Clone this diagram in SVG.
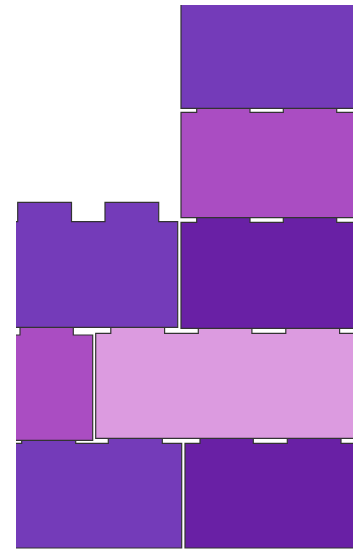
<svg xmlns="http://www.w3.org/2000/svg" width="360" height="549" viewBox="0 0 360 549">
<defs>
<clipPath id="view"><rect x="16" y="5" width="337" height="544"/></clipPath>
</defs>
<style>
.b{stroke:#333;stroke-width:1.2;stroke-linejoin:miter}
.p{fill:#743bb9}
.m{fill:#aa4dc2}
.d{fill:#6920a5}
.l{fill:#dc9be0}
</style>
<rect width="360" height="549" fill="#fff"/>
<g clip-path="url(#view)">
<g id="brick-g"><path class="b p" d="M0 548V443.3H21.7V423.9H75.7V443.3H108.3V423.9H162.3V443.3H181.7V548Z"/></g>
<g id="brick-h"><path class="b d" d="M185 548V443.3H200V423.9H253.3V443.3H287.3V423.9H341V443.3H400V548Z"/></g>
<g id="brick-e"><path class="b m" d="M0 440.3V335H20V315.6H73.3V335H92.7V440.3Z"/></g>
<g id="brick-f"><path class="b l" d="M95.7 438.3V333.3H110.8V313.9H164.6V333.3H198.3V313.9H251.9V333.3H285.8V313.9H339.6V333.3H400V438.3Z"/></g>
<g id="brick-d"><path class="b p" d="M0 327.3V221.7H17.7V202.3H71.5V221.7H105V202.3H158.7V221.7H177.7V327.3Z"/></g>
<g id="brick-c"><path class="b d" d="M181 328.3V222.3H196.7V202.9H250V222.3H283.3V202.9H336.7V222.3H400V328.3Z"/></g>
<g id="brick-b"><path class="b m" d="M181 217.7V112.3H196.7V92.9H250V112.3H283.3V92.9H336.7V112.3H400V217.7Z"/></g>
<g id="brick-a"><path class="b p" d="M181 108.3V-20H400V108.3Z"/></g>
</g>
</svg>
